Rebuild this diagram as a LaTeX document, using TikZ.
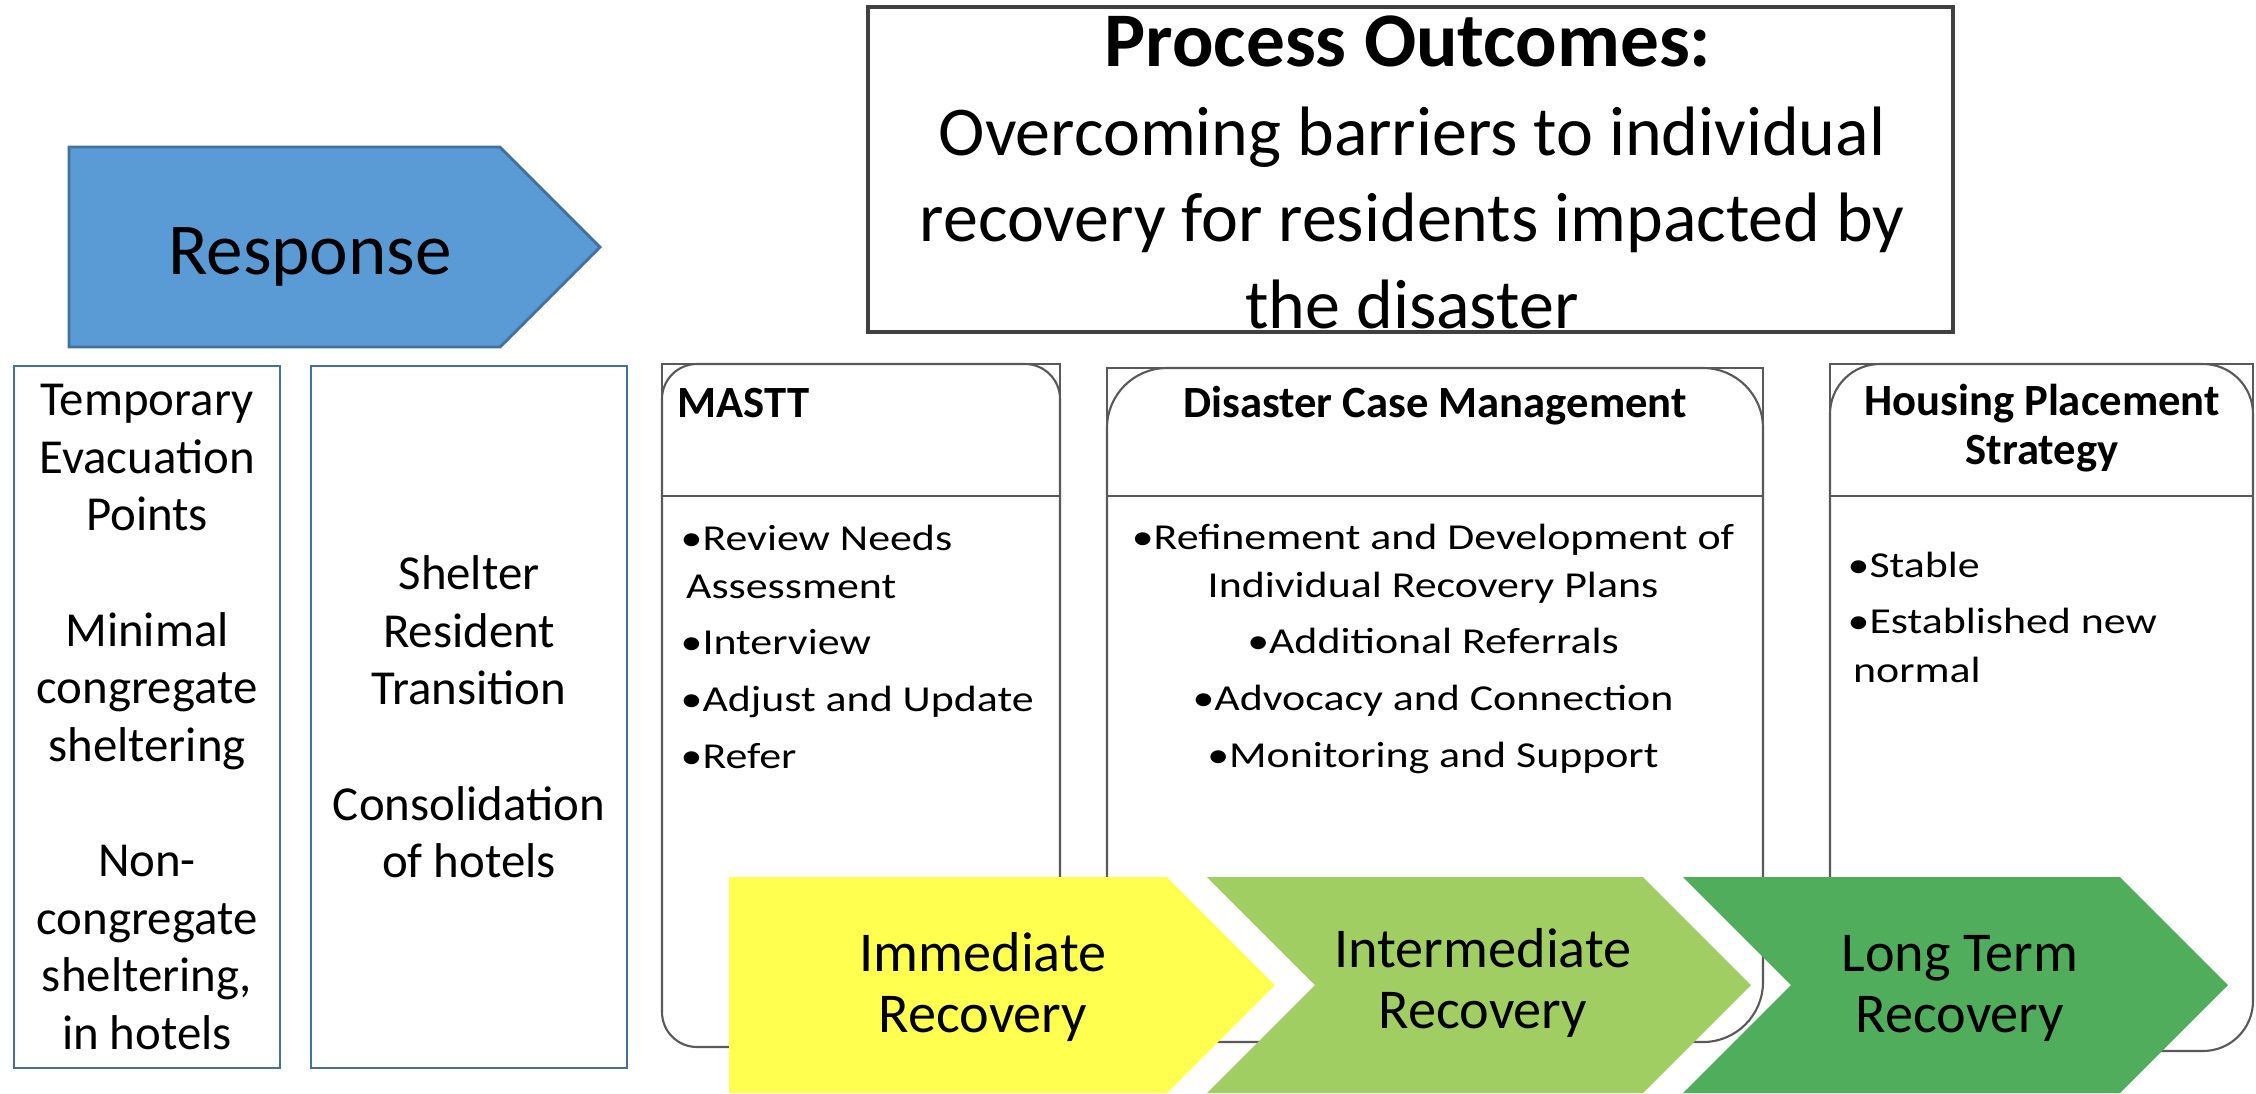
\documentclass[tikz,border=0pt]{standalone}
\usepackage{fontspec}
\setmainfont{Carlito}
\newfontfamily\itemfont[FakeStretch=1.2]{Carlito}
\usepackage{tikz}

\definecolor{respblue}{HTML}{5B9BD5}
\definecolor{respedge}{HTML}{41719C}
\definecolor{boxgray}{HTML}{595959}
\definecolor{chevyellow}{HTML}{FFFF50}
\definecolor{chevlight}{HTML}{A0CE62}
\definecolor{chevdark}{HTML}{4FAD5B}

\begin{document}
\begin{tikzpicture}[
    bluebox/.style={draw=respedge, line width=0.8pt, inner sep=0pt, align=center,
      minimum height=7.02cm, font=\fontsize{13.9}{16.4}\selectfont},
    headtext/.style={inner sep=0pt, font=\bfseries\fontsize{12.7}{13.7}\selectfont},
    itemtext/.style={inner sep=0pt, font=\itemfont\fontsize{10.4}{13.7}\selectfont},
    chevtext/.style={inner sep=0pt, anchor=base, align=center, font=\fontsize{16}{17.2}\selectfont},
    panel/.style={draw=boxgray, line width=0.6pt}]

    \useasboundingbox (0,0) rectangle (22.56,-10.93);

    % response phase
    \filldraw[fill=respblue, draw=respedge, line width=0.8pt]
        (0.69,-1.47) -- (5.00,-1.47) -- (6.00,-2.47) -- (5.00,-3.47) -- (0.69,-3.47) -- cycle;
    \node[anchor=base, inner sep=0pt, font=\fontsize{20.8}{25}\selectfont] (response) at (3.10,-2.74) {Response};

    \node[bluebox, minimum width=2.66cm] (evac) at (1.47,-7.17)
        {Temporary\\Evacuation\\Points\\[16.4pt]Minimal\\congregate\\sheltering\\[16.4pt]Non-\\congregate\\sheltering,\\in hotels};
    \node[bluebox, minimum width=3.16cm] (shelter) at (4.69,-7.17)
        {Shelter\\Resident\\Transition\\[16.4pt]Consolidation\\of hotels};

    % process outcomes (base of a multi-line node = its last line)
    \draw[draw=black!75, line width=1pt] (8.68,-0.07) rectangle (19.53,-3.32);
    \node[anchor=base, inner sep=0pt, font=\bfseries\fontsize{22}{26}\selectfont] (outhead) at (14.08,-0.66) {Process Outcomes:};
    \node[anchor=base, inner sep=0pt, align=center, font=\fontsize{19.9}{24.5}\selectfont] (outtext) at (14.12,-3.28)
        {Overcoming barriers to individual\\recovery for residents impacted by\\the disaster};

    % outcome panels
    \draw[panel] (6.62,-3.64) rectangle (10.60,-4.96);
    \draw[panel, rounded corners=0.35cm] (6.62,-3.64) rectangle (10.60,-10.47);
    \draw[panel] (11.07,-3.68) rectangle (17.63,-4.96);
    \draw[panel, rounded corners=0.6cm] (11.07,-3.68) rectangle (17.63,-10.42);
    \draw[panel] (18.30,-3.64) rectangle (22.53,-4.96);
    \draw[panel, rounded corners=0.5cm] (18.30,-3.64) rectangle (22.53,-10.51);

    \node[headtext, anchor=base west] (masthead) at (6.77,-4.17) {MASTT};
    \node[headtext, anchor=base] (dcmhead) at (14.35,-4.17) {Disaster Case Management};
    \node[headtext, anchor=base, align=center] (househead) at (20.42,-4.64) {Housing Placement\\Strategy};

    \node[itemtext, anchor=base west, align=left] (mastitems) at (6.80,-7.68)
        {•Review Needs\\\hspace*{0.15em}Assessment\\[2.4pt]•Interview\\[2.4pt]•Adjust and Update\\[2.4pt]•Refer};
    \node[itemtext, anchor=base, align=center] (dcmitems) at (14.33,-7.67)
        {•Refinement and Development of\\Individual Recovery Plans\\[2.4pt]•Additional Referrals\\[2.4pt]•Advocacy and Connection\\[2.4pt]•Monitoring and Support};
    \node[itemtext, anchor=base west, align=left] (houseitems) at (18.47,-6.82)
        {•Stable\\[2.4pt]•Established new\\\hspace*{0.15em}normal};

    % recovery chevrons
    \fill[chevyellow] (7.29,-8.77) -- (11.67,-8.77) -- (12.75,-9.85) -- (11.67,-10.93) -- (7.29,-10.93) -- cycle;
    \fill[chevlight] (12.07,-8.77) -- (16.43,-8.77) -- (17.51,-9.85) -- (16.43,-10.93) -- (12.07,-10.93) -- (13.15,-9.85) -- cycle;
    \fill[chevdark] (16.83,-8.77) -- (21.20,-8.77) -- (22.28,-9.85) -- (21.20,-10.93) -- (16.83,-10.93) -- (17.91,-9.85) -- cycle;

    \node[chevtext] (immediate) at (9.83,-10.32) {Immediate\\Recovery};
    \node[chevtext] (intermediate) at (14.83,-10.28) {Intermediate\\Recovery};
    \node[chevtext] (longterm) at (19.60,-10.32) {Long Term\\Recovery};
\end{tikzpicture}
\end{document}
